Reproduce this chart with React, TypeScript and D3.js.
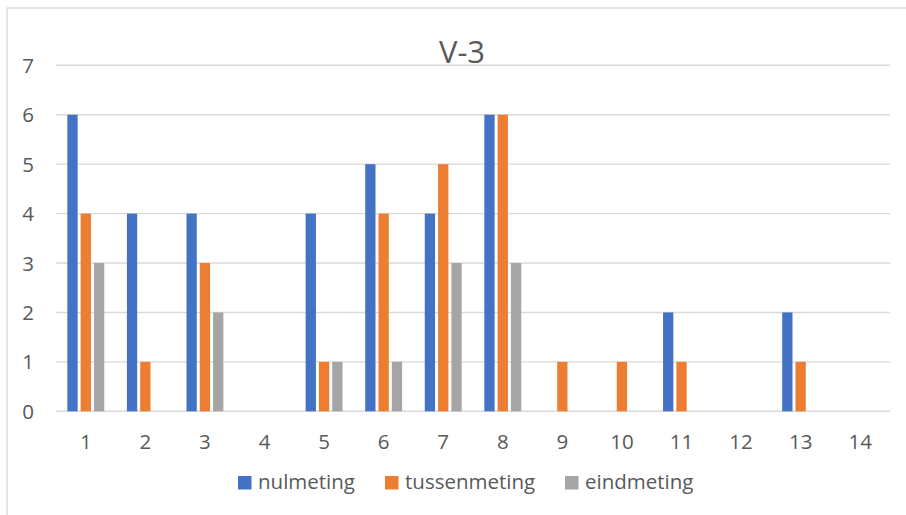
import React from "react";
import * as d3 from "d3";

const categories = ["1","2","3","4","5","6","7","8","9","10","11","12","13","14"];
const seriesNames = ["nulmeting", "tussenmeting", "eindmeting"];
const nulmeting = [6,4,4,0,4,5,4,6,0,0,2,0,2,0];
const tussenmeting = [4,1,3,0,1,4,5,6,1,1,1,0,1,0];
const eindmeting = [3,0,2,0,1,1,3,3,0,0,0,0,0,0];
const yTicks = [0,1,2,3,4,5,6,7];
const colors = ["#4472C4", "#ED7D31", "#A5A5A5"];
const title = "V-3";

export default function App() {
  const W = 906, H = 515;
  const left = 56, right = 890, top = 65.3, bottom = 411.3;
  const values = [nulmeting, tussenmeting, eindmeting];
  const x = d3.scaleBand<string>().domain(categories).range([left, right]).padding(0);
  const inner = d3.scaleBand<string>().domain(seriesNames).range([0, x.bandwidth()])
    .paddingInner(0.226).paddingOuter(0.853);
  const y = d3.scaleLinear().domain([0, 7]).range([bottom, top]);
  const font = "'Open Sans', sans-serif";
  const textColor = "#595959";

  const legendItems = [
    { name: seriesNames[0], sx: 238, tx: 258 },
    { name: seriesNames[1], sx: 385, tx: 405 },
    { name: seriesNames[2], sx: 565, tx: 585 },
  ];

  return (
    <svg width={W} height={H} style={{ position: "absolute", left: 0, top: 0 }}>
      <rect x={0} y={0} width={W} height={H} fill="#fff" />
      <rect x={7} y={8} width={W + 20} height={H + 20} fill="#fff" stroke="#d9d9d9" strokeWidth={1.3} />
      <text x={462} y={63} textAnchor="middle" fontFamily={font} fontSize={31} fill={textColor}>{title}</text>
      {yTicks.map((t) => (
        <g key={t}>
          <line x1={left} x2={right} y1={y(t)} y2={y(t)} stroke="#d9d9d9" strokeWidth={1.4} />
          <text x={34} y={y(t) + 7.5} textAnchor="end" fontFamily={font} fontSize={20.5} fill={textColor}>{t}</text>
        </g>
      ))}
      {categories.map((c, i) => (
        <g key={c}>
          {seriesNames.map((s, j) => {
            const v = values[j][i];
            if (!v) return null;
            return (
              <rect key={s} x={(x(c) as number) + (inner(s) as number)} y={y(v)}
                width={inner.bandwidth()} height={y(0) - y(v)} fill={colors[j]} />
            );
          })}
          <text x={(x(c) as number) + x.bandwidth() / 2} y={449} textAnchor="middle"
            fontFamily={font} fontSize={20.5} fill={textColor}>{c}</text>
        </g>
      ))}
      {legendItems.map((l, j) => (
        <g key={l.name}>
          <rect x={l.sx} y={476} width={13.5} height={13.5} fill={colors[j]} />
          <text x={l.tx} y={489} fontFamily={font} fontSize={20.5} fill={textColor}>{l.name}</text>
        </g>
      ))}
    </svg>
  );
}
